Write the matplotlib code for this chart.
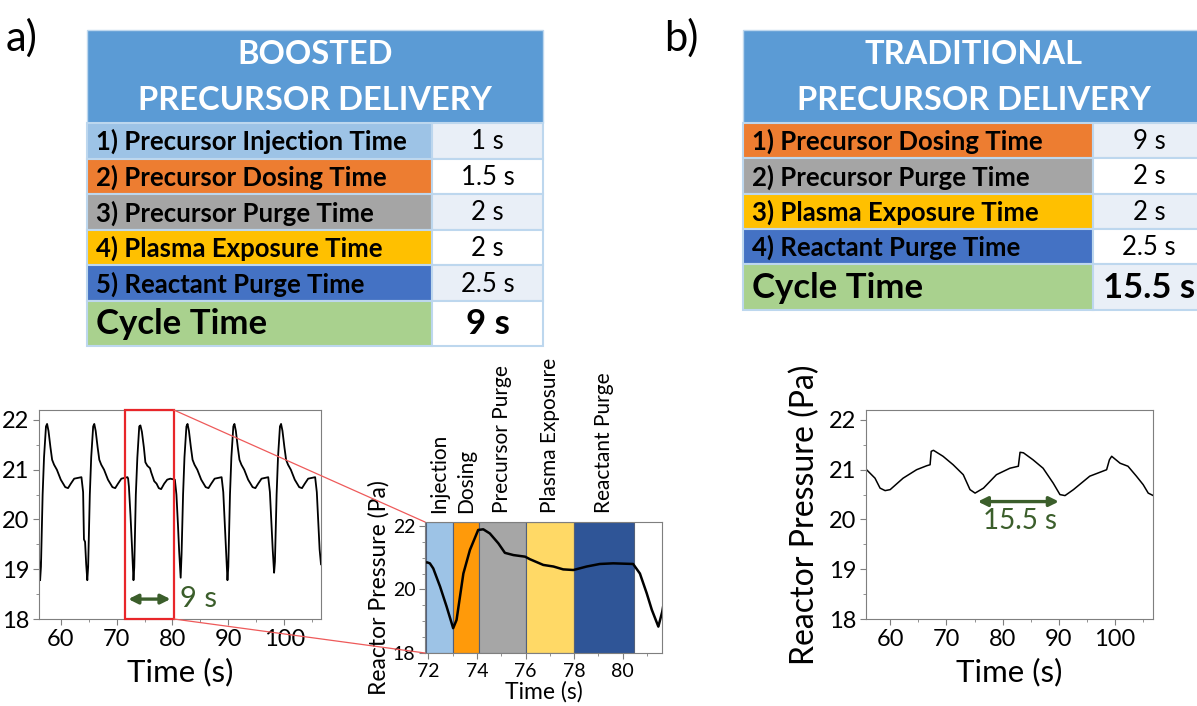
import matplotlib
matplotlib.use('Agg')
import matplotlib.pyplot as plt
from matplotlib.patches import Rectangle, ConnectionPatch
from matplotlib.ticker import MultipleLocator

plt.rcParams['font.family'] = ['Lato', 'DejaVu Sans']

# --- tables ---
boosted_steps = ['1) Precursor Injection Time', '2) Precursor Dosing Time',
                 '3) Precursor Purge Time', '4) Plasma Exposure Time',
                 '5) Reactant Purge Time']
boosted_times = ['1 s', '1.5 s', '2 s', '2 s', '2.5 s']
boosted_colors = ['#9DC3E6', '#ED7D31', '#A5A5A5', '#FFC000', '#4472C4']
boosted_cycle = '9 s'

trad_steps = ['1) Precursor Dosing Time', '2) Precursor Purge Time',
              '3) Plasma Exposure Time', '4) Reactant Purge Time']
trad_times = ['9 s', '2 s', '2 s', '2.5 s']
trad_colors = ['#ED7D31', '#A5A5A5', '#FFC000', '#4472C4']
trad_cycle = '15.5 s'

# --- boosted pressure trace (s, Pa) ---
boost_t = [56.12, 56.3, 56.45, 56.75, 57.0, 57.35, 57.55, 57.8, 58.15, 58.45, 58.8, 59.3,
           60.0, 60.8, 61.3, 61.8, 62.4, 63.7,
           64.0, 64.15, 64.35, 64.55, 64.75, 64.9, 65.2, 65.45, 65.8, 66.0, 66.25, 66.6,
           66.9, 67.25, 67.75, 68.45, 69.25, 69.75, 70.25, 70.85, 71.95,
           72.06, 72.2, 72.48, 72.75, 73.02, 73.16, 73.44, 73.71, 74.05, 74.26, 74.53,
           74.88, 75.15, 75.5, 75.98, 76.18, 76.73, 77.15, 77.55, 77.97, 78.52, 79.06,
           79.61, 80.43, 80.71, 80.99, 81.2, 81.47, 81.63,
           81.9, 82.15, 82.5, 82.7, 82.95, 83.3, 83.6, 83.95, 84.45, 85.15, 85.95,
           86.45, 86.95, 87.55, 88.8,
           89.1, 89.4, 89.6, 89.85, 90.0, 90.3, 90.55, 90.9, 91.1, 91.35, 91.7, 92.0,
           92.35, 92.85, 93.55, 94.35, 94.85, 95.35, 95.95, 97.15,
           97.45, 97.75, 97.95, 98.1, 98.2, 98.35, 98.65, 98.9, 99.25, 99.45, 99.7,
           100.05, 100.35, 100.7, 101.2, 101.9, 102.7, 103.2, 103.7, 104.3, 105.55,
           105.85, 106.15, 106.35, 106.6]
boost_p = [19.2, 18.78, 19.05, 20.5, 21.25, 21.87, 21.92, 21.78, 21.45, 21.2, 21.1, 21.0,
           20.8, 20.65, 20.63, 20.72, 20.82, 20.85,
           20.55, 19.6, 19.55, 19.1, 18.78, 19.05, 20.5, 21.25, 21.87, 21.92, 21.78, 21.45,
           21.2, 21.1, 21.0, 20.8, 20.65, 20.63, 20.72, 20.82, 20.85,
           20.82, 20.66, 20.09, 19.46, 18.78, 19.04, 20.5, 21.24, 21.87, 21.89, 21.76,
           21.45, 21.15, 21.08, 21.03, 20.95, 20.77, 20.72, 20.63, 20.61, 20.72, 20.8,
           20.82, 20.8, 20.5, 19.88, 19.36, 18.83, 19.3,
           20.5, 21.25, 21.87, 21.92, 21.78, 21.45, 21.2, 21.1, 21.0, 20.8, 20.65,
           20.63, 20.72, 20.82, 20.85,
           20.55, 19.85, 19.4, 18.78, 19.05, 20.5, 21.25, 21.87, 21.92, 21.78, 21.45, 21.2,
           21.1, 21.0, 20.8, 20.65, 20.63, 20.72, 20.82, 20.85,
           20.55, 19.85, 19.4, 19.1, 18.93, 19.15, 20.5, 21.25, 21.87, 21.92, 21.78,
           21.45, 21.2, 21.1, 21.0, 20.8, 20.65, 20.63, 20.72, 20.82, 20.85,
           20.55, 19.85, 19.4, 19.1]

# --- traditional pressure trace (s, Pa) ---
trad_t = [55.8, 57.3, 58.2, 59.1, 60.0, 62.3, 64.7, 66.5, 67.1, 67.3, 67.7, 69.4, 71.2,
          73.0, 74.2, 75.1, 76.6, 78.9, 81.3, 82.8, 83.1, 83.7, 85.4, 87.2, 89.0, 90.2,
          91.1, 92.6, 95.5, 98.5, 99.0, 99.4, 100.9, 102.3, 103.8, 105.0, 105.9, 106.8]
trad_p = [21.0, 20.83, 20.63, 20.58, 20.6, 20.83, 21.0, 21.08, 21.1, 21.37, 21.39, 21.27,
          21.1, 20.9, 20.6, 20.53, 20.63, 20.9, 21.03, 21.07, 21.35, 21.34, 21.2, 21.03,
          20.73, 20.5, 20.48, 20.6, 20.87, 21.0, 21.2, 21.27, 21.13, 21.07, 20.87, 20.7,
          20.53, 20.48]

# inset phases
phase_names = ['Injection', 'Dosing', 'Precursor Purge', 'Plasma Exposure', 'Reactant Purge']
phase_start = [71.9, 73.0, 74.1, 76.0, 78.0]
phase_end = [73.0, 74.1, 76.0, 78.0, 80.45]
phase_colors = ['#9DC3E6', '#FF9A0A', '#A6A6A6', '#FFD966', '#2F5597']

W, H = 1197, 706
fig = plt.figure(figsize=(W / 100, H / 100), dpi=100)

# overlay in pixel coordinates for the two tables
tab = fig.add_axes([0, 0, 1, 1])
tab.set_xlim(0, W)
tab.set_ylim(H, 0)
tab.axis('off')

grid_col = '#BDD7EE'


def draw_table(x0, x1, xs, top, head_bot, row_h, cyc_h, title, steps, times, colors, cycle):
    tab.add_patch(Rectangle((x0, top), x1 - x0, head_bot - top, fc='#5B9BD5', ec=grid_col, lw=1))
    tab.text((x0 + x1) / 2, top + (head_bot - top) * 0.26, title[0], color='white',
             fontsize=23.5, fontweight='bold', ha='center', va='center')
    tab.text((x0 + x1) / 2, top + (head_bot - top) * 0.76, title[1], color='white',
             fontsize=23.5, fontweight='bold', ha='center', va='center')
    y = head_bot
    for i, (s, t, c) in enumerate(zip(steps, times, colors)):
        tab.add_patch(Rectangle((x0, y), xs - x0, row_h, fc=c, ec=grid_col, lw=1.5))
        vc = '#E9EFF7' if i % 2 == 0 else 'white'
        tab.add_patch(Rectangle((xs, y), x1 - xs, row_h, fc=vc, ec=grid_col, lw=1.5))
        tab.text(x0 + 9, y + row_h / 2 + 1, s, fontsize=18.5, fontweight='bold', ha='left', va='center')
        tab.text((xs + x1) / 2, y + row_h / 2 + 1, t, fontsize=18.5, ha='center', va='center')
        y += row_h
    vc = '#E9EFF7' if len(steps) % 2 == 0 else 'white'
    tab.add_patch(Rectangle((x0, y), xs - x0, cyc_h, fc='#A9D18E', ec=grid_col, lw=1.5))
    tab.add_patch(Rectangle((xs, y), x1 - xs, cyc_h, fc=vc, ec=grid_col, lw=1.5))
    tab.text(x0 + 9, y + cyc_h / 2 + 1, 'Cycle Time', fontsize=25, fontweight='bold', ha='left', va='center')
    tab.text((xs + x1) / 2, y + cyc_h / 2 + 1, cycle, fontsize=25, fontweight='bold', ha='center', va='center')


draw_table(87, 543, 432, 30, 123, 35.6, 45, ('BOOSTED', 'PRECURSOR DELIVERY'),
           boosted_steps, boosted_times, boosted_colors, boosted_cycle)
draw_table(743, 1205, 1093, 30, 123, 35.3, 46, ('TRADITIONAL', 'PRECURSOR DELIVERY'),
           trad_steps, trad_times, trad_colors, trad_cycle)

tab.text(6, 38, 'a)', fontsize=30, ha='left', va='center')
tab.text(664, 38, 'b)', fontsize=30, ha='left', va='center')

green = '#3B5E2B'
spine_col = '#7F7F7F'


def style(ax, ls):
    for sp in ax.spines.values():
        sp.set_color(spine_col)
        sp.set_linewidth(0.8)
    ax.tick_params(which='both', color=spine_col, labelsize=ls, pad=3)
    ax.tick_params(which='major', length=4)
    ax.tick_params(which='minor', length=2.5)


# left: boosted
ax_l = fig.add_axes([39 / W, 1 - 619 / H, 282 / W, 209 / H])
ax_l.plot(boost_t, boost_p, color='black', lw=1.3)
ax_l.set_xlim(56.1, 106.6)
ax_l.set_ylim(18, 22.2)
ax_l.xaxis.set_major_locator(MultipleLocator(10))
ax_l.xaxis.set_minor_locator(MultipleLocator(5))
ax_l.yaxis.set_major_locator(MultipleLocator(1))
ax_l.yaxis.set_minor_locator(MultipleLocator(0.5))
style(ax_l, 17)
ax_l.set_xlabel('Time (s)', fontsize=22.5, labelpad=6)
ax_l.add_patch(Rectangle((71.5, 18), 80.25 - 71.5, 4.2, fill=False, ec='#E8262A', lw=1.6, clip_on=False, zorder=5))
ax_l.annotate('', xy=(71.6, 18.4), xytext=(80.15, 18.4),
              arrowprops=dict(arrowstyle='<|-|>', color=green, lw=2.4, mutation_scale=14))
ax_l.text(81.3, 18.4, '9 s', color=green, fontsize=21, ha='left', va='center')

# right: traditional
ax_r = fig.add_axes([866 / W, 1 - 619 / H, 287 / W, 209 / H])
ax_r.plot(trad_t, trad_p, color='black', lw=1.1)
ax_r.set_xlim(55.7, 106.75)
ax_r.set_ylim(18, 22.2)
ax_r.xaxis.set_major_locator(MultipleLocator(10))
ax_r.xaxis.set_minor_locator(MultipleLocator(5))
ax_r.yaxis.set_major_locator(MultipleLocator(1))
ax_r.yaxis.set_minor_locator(MultipleLocator(0.5))
style(ax_r, 17)
ax_r.set_xlabel('Time (s)', fontsize=22.5, labelpad=6)
ax_r.set_ylabel('Reactor Pressure (Pa)', fontsize=23, labelpad=6)
ax_r.annotate('', xy=(75.1, 20.36), xytext=(90.5, 20.36),
              arrowprops=dict(arrowstyle='<|-|>', color=green, lw=2.4, mutation_scale=14))
ax_r.text(83.1, 19.96, '15.5 s', color=green, fontsize=20, ha='center', va='center')

# inset: one boosted cycle
ax_in = fig.add_axes([425 / W, 1 - 653 / H, 237 / W, 131 / H])
for nm, s, e, c in zip(phase_names, phase_start, phase_end, phase_colors):
    ax_in.axvspan(s, e, fc=c, ec='#52607A', lw=0.8)
    ax_in.text((s + e) / 2, 1.07, nm, transform=ax_in.get_xaxis_transform(), rotation=90,
               ha='center', va='bottom', fontsize=15)
ax_in.plot(boost_t, boost_p, color='black', lw=1.8)
ax_in.set_xlim(71.86, 81.62)
ax_in.set_ylim(18, 22.12)
ax_in.xaxis.set_major_locator(MultipleLocator(2))
ax_in.xaxis.set_minor_locator(MultipleLocator(1))
ax_in.yaxis.set_major_locator(MultipleLocator(2))
ax_in.yaxis.set_minor_locator(MultipleLocator(0.5))
style(ax_in, 14)
ax_in.set_xlabel('Time (s)', fontsize=16.5, labelpad=1)
ax_in.set_ylabel('Reactor Pressure (Pa)', fontsize=16.5, labelpad=2)

for ya, yb in ((22.2, 1), (18, 0)):
    con = ConnectionPatch(xyA=(80.25, ya), coordsA=ax_l.transData,
                          xyB=(0, yb), coordsB=ax_in.transAxes,
                          color='#EE5A5A', lw=0.9)
    fig.add_artist(con)

fig.savefig('out.png', dpi=100)
